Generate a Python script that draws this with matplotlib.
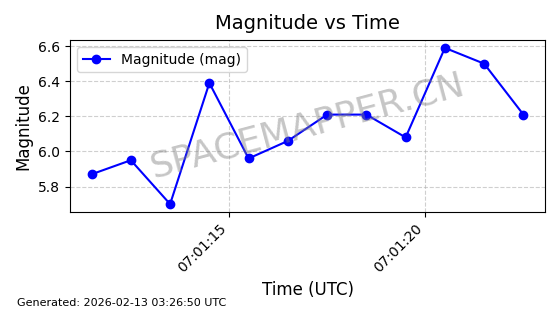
import pandas as pd
import matplotlib
matplotlib.use("Agg")
import matplotlib.pyplot as plt
import matplotlib.dates as mdates

# Observation times (UTC) and magnitudes
times = pd.to_datetime([
    "2026-02-13 07:01:11.5", "2026-02-13 07:01:12.5", "2026-02-13 07:01:13.5",
    "2026-02-13 07:01:14.5", "2026-02-13 07:01:15.5", "2026-02-13 07:01:16.5",
    "2026-02-13 07:01:17.5", "2026-02-13 07:01:18.5", "2026-02-13 07:01:19.5",
    "2026-02-13 07:01:20.5", "2026-02-13 07:01:21.5", "2026-02-13 07:01:22.5",
])
magnitudes = [5.87, 5.95, 5.70, 6.39, 5.96, 6.06, 6.21, 6.21, 6.08, 6.59, 6.50, 6.21]
tick_times = pd.to_datetime(["2026-02-13 07:01:15", "2026-02-13 07:01:20"])

fig = plt.figure(figsize=(5.6, 3.14), dpi=100)
ax = fig.add_axes([70 / 560, 1 - 212 / 314, 475 / 560, 172 / 314])

ax.plot(times, magnitudes, marker='o', linestyle='-', color='blue',
        linewidth=1.5, markersize=6, label='Magnitude (mag)')

ax.set_title("Magnitude vs Time", fontsize=14, pad=8)
ax.set_xlabel("Time (UTC)", fontsize=12)
ax.set_ylabel("Magnitude", fontsize=12)
ax.set_xticks(tick_times)
ax.xaxis.set_major_formatter(mdates.DateFormatter('%H:%M:%S'))
plt.setp(ax.get_xticklabels(), rotation=45, ha='right')
ax.set_xlim(pd.Timestamp("2026-02-13 07:01:10.95"), pd.Timestamp("2026-02-13 07:01:23.05"))
ax.set_ylim(5.655, 6.635)
ax.set_yticks([5.8, 6.0, 6.2, 6.4, 6.6])

ax.grid(True, linestyle='--', alpha=0.6)
ax.legend(loc='upper left')

# Watermark
ax.text(0.5, 0.5, "SPACEMAPPER.CN", transform=ax.transAxes, fontsize=26,
        color='gray', alpha=0.45, rotation=15, ha='center', va='center')

fig.text(0.03, 0.025, "Generated: 2026-02-13 03:26:50 UTC", fontsize=8)

fig.savefig("out.png", dpi=100)
